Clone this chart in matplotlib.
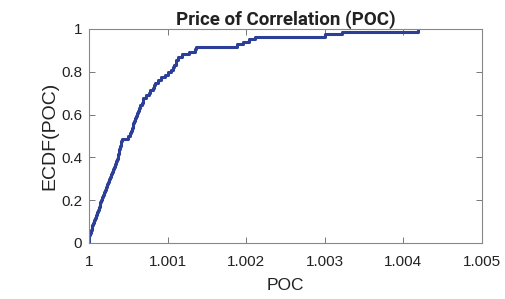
import matplotlib
matplotlib.use("Agg")
import matplotlib.pyplot as plt
import numpy as np

# Sorted POC samples, expressed as offsets from 1 in units of 1e-6
poc_offsets_e6 = [0, 3, 6, 13, 23, 32, 41, 51, 61, 76, 88, 99, 111, 122, 134, 142,
                  155, 167, 181, 191, 201, 212, 225, 238, 249, 265, 280, 295, 310,
                  323, 336, 347, 356, 364, 371, 379, 384, 392, 401, 407, 416, 500,
                  522, 534, 546, 557, 566, 576, 588, 601, 614, 627, 641, 655, 669,
                  682, 693, 725, 757, 782, 808, 827, 846, 884, 920, 961, 1005, 1037,
                  1069, 1084, 1101, 1113, 1132, 1183, 1272, 1349, 1355, 1883, 1959,
                  2036, 2112, 3003, 3215, 4190]
x_ticks = [1.0, 1.001, 1.002, 1.003, 1.004, 1.005]
x_tick_labels = ["1", "1.001", "1.002", "1.003", "1.004", "1.005"]
y_ticks = [0, 0.2, 0.4, 0.6, 0.8, 1.0]
y_tick_labels = ["0", "0.2", "0.4", "0.6", "0.8", "1"]

poc = 1.0 + np.array(poc_offsets_e6) * 1e-6
n = len(poc)
ecdf = np.arange(1, n + 1) / n
xs = np.concatenate([[poc[0]], poc])
ys = np.concatenate([[0.0], ecdf])

plt.rcParams['font.family'] = ['Liberation Sans', 'DejaVu Sans']

fig = plt.figure(figsize=(5.06, 2.99), dpi=100)
ax = fig.add_axes([89/506, 1 - 243/299, (482-89)/506, (243-29)/299])
ax.step(xs, ys, where='post', color='#2b3f98', linewidth=2.2)
ax.set_xlim(1.0, 1.005)
ax.set_ylim(0, 1)
ax.set_xticks(x_ticks)
ax.set_xticklabels(x_tick_labels)
ax.set_yticks(y_ticks)
ax.set_yticklabels(y_tick_labels)
ax.tick_params(direction='in', top=True, right=True, length=4, width=0.7,
               colors='#777777', labelcolor='#222222', labelsize=11)
ax.tick_params(axis='x', pad=9)
ax.tick_params(axis='y', pad=5)
for s in ax.spines.values():
    s.set_color('#888888')
    s.set_linewidth(0.8)
ax.set_xlabel('POC', fontsize=12.5, color='#222222', labelpad=6)
ax.set_ylabel('ECDF(POC)', fontsize=14, color='#222222', labelpad=2)
ax.set_title('Price of Correlation (POC)', fontsize=13.5, fontweight='bold',
             color='#222222', pad=3, family=['Roboto', 'Liberation Sans', 'DejaVu Sans'])
fig.savefig('out.png', dpi=100, facecolor='white')
